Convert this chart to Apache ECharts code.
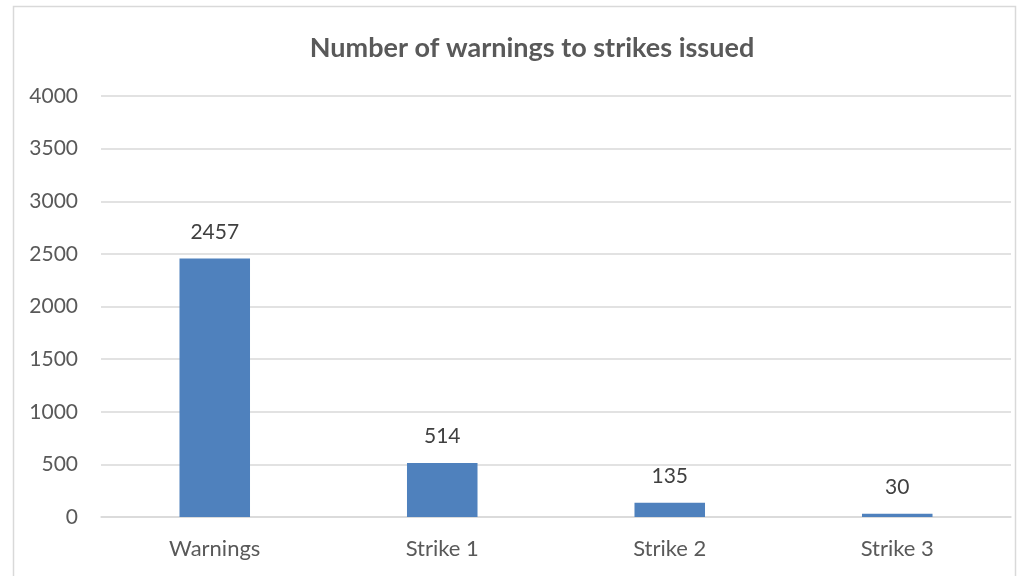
<!DOCTYPE html>
<html><head><meta charset="utf-8">
<script src="https://cdn.jsdelivr.net/npm/echarts@6/dist/echarts.min.js"></script>
<style>html,body{margin:0;padding:0;background:#fff}#c{width:1017px;height:576px}</style>
</head><body><div id="c"></div>
<script>
const categories = ['Warnings', 'Strike 1', 'Strike 2', 'Strike 3'];
const values = [2457, 514, 135, 30];
const yTicks = [0, 500, 1000, 1500, 2000, 2500, 3000, 3500, 4000];
const titleText = 'Number of warnings to strikes issued';

const chart = echarts.init(document.getElementById('c'));
const font = 'Lato, "Open Sans", sans-serif';
chart.setOption({
  animation: false,
  graphic: [{
    type: 'rect', silent: true,
    shape: { x: 13.5, y: 6.5, width: 1002, height: 620 },
    style: { fill: 'none', stroke: '#d9d9d9', lineWidth: 1.5 }
  }],
  title: {
    text: titleText, left: 527, top: 30, textAlign: 'center',
    textStyle: { fontFamily: font, fontSize: 27, fontWeight: 'bold', color: '#595959' }
  },
  grid: { left: 101, right: 6, top: 96, bottom: 59 },
  xAxis: {
    type: 'category', data: categories,
    axisLine: { lineStyle: { color: '#d9d9d9', width: 1.5 } },
    axisTick: { show: false },
    axisLabel: { color: '#595959', fontFamily: font, fontSize: 22, margin: 21 }
  },
  yAxis: {
    type: 'value', min: yTicks[0], max: yTicks[yTicks.length - 1], interval: 500,
    axisLine: { show: false }, axisTick: { show: false },
    splitLine: { lineStyle: { color: '#d9d9d9', width: 1.5 } },
    axisLabel: { color: '#595959', fontFamily: font, fontSize: 21, margin: 23, formatter: v => String(v) }
  },
  series: [{
    type: 'bar', data: values, barWidth: '31%',
    itemStyle: { color: '#4F81BD' },
    label: { show: true, position: 'top', distance: 16, color: '#404040', fontFamily: font, fontSize: 21 }
  }]
});
</script></body></html>
